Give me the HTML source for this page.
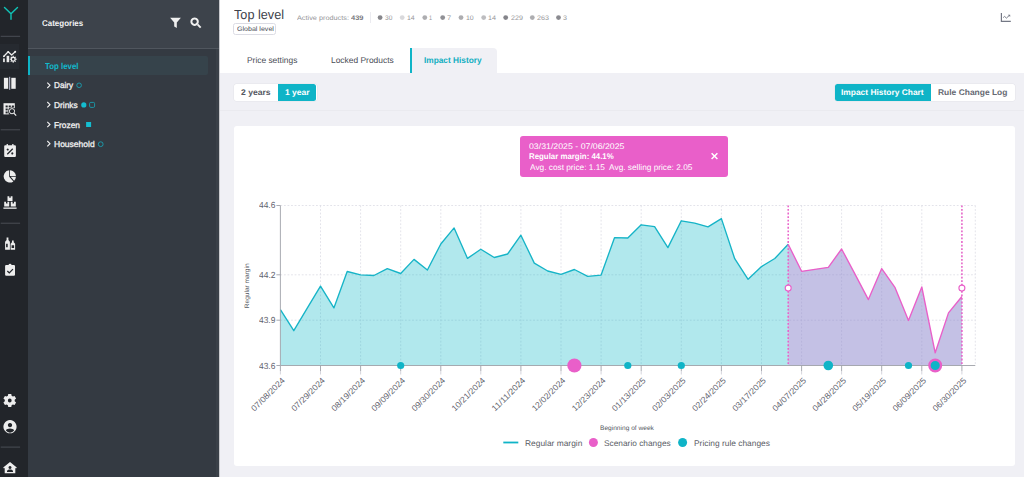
<!DOCTYPE html>
<html lang="en"><head><meta charset="utf-8"><title>Impact History</title>
<style>
html,body{margin:0;padding:0;}
body{width:1024px;height:477px;overflow:hidden;position:relative;background:#fff;font-family:"Liberation Sans", sans-serif;}
.t{position:absolute;white-space:nowrap;line-height:1;transform-origin:0 50%;text-rendering:geometricPrecision;}
text{text-rendering:geometricPrecision;}
.a{position:absolute;}
svg{position:absolute;overflow:visible;}
</style></head><body>

<div class="a" style="left:0;top:0;width:28px;height:477px;background:#22252a"></div>
<div class="a" style="left:0;top:44px;width:19px;height:25px;background:#262a30"></div>
<svg class="a" style="left:0;top:0" width="28" height="477" viewBox="0 0 28 477"><rect x="0.7" y="35.8" width="19.4" height="1" fill="#4a4e55"/><rect x="0.7" y="129.3" width="19.4" height="1" fill="#4a4e55"/><rect x="0.7" y="222.7" width="19.4" height="1" fill="#4a4e55"/><rect x="0.7" y="446.6" width="19.4" height="1" fill="#4a4e55"/></svg>
<svg class="a" style="left:0;top:0" width="28" height="40" viewBox="0 0 28 40"><path d="M4.5 7.4 L11 13.8 L17.5 7.5 M11 13.8 L11 19.2" fill="none" stroke="#10c3b6" stroke-width="1.4" stroke-linecap="round"/></svg>
<svg class="a" style="left:0;top:0" width="28" height="477" viewBox="0 0 28 477">
<g fill="#ededed" stroke="none">
<!-- analytics -->
<path d="M3.9 56.2 L8.2 51.8 L11.6 55.0 L15.0 52.0" fill="none" stroke="#ededed" stroke-width="1.25" stroke-linejoin="round" stroke-linecap="round"/>
<circle cx="15.2" cy="51.8" r="1.0"/><circle cx="3.9" cy="56.3" r="0.9"/><circle cx="8.2" cy="51.8" r="0.9"/>
<rect x="3.1" y="58.4" width="1.7" height="3.7"/>
<rect x="6.6" y="55.8" width="2.6" height="6.4"/>
<path d="M12.60 56.77 L12.67 55.74 L13.73 55.74 L13.80 56.77 L14.49 57.06 L15.27 56.38 L16.02 57.13 L15.34 57.91 L15.63 58.60 L16.66 58.67 L16.66 59.73 L15.63 59.80 L15.34 60.49 L16.02 61.27 L15.27 62.02 L14.49 61.34 L13.80 61.63 L13.73 62.66 L12.67 62.66 L12.60 61.63 L11.91 61.34 L11.13 62.02 L10.38 61.27 L11.06 60.49 L10.77 59.80 L9.74 59.73 L9.74 58.67 L10.77 58.60 L11.06 57.91 L10.38 57.13 L11.13 56.38 L11.91 57.06 Z M11.95 59.20 a1.25 1.25 0 1 0 2.5 0 a1.25 1.25 0 1 0 -2.5 0 Z" fill-rule="evenodd"/>
<!-- columns -->
<rect x="3.9" y="77.8" width="4.3" height="11"/>
<rect x="11.3" y="77.8" width="4.4" height="11"/>
<rect x="9.2" y="76.8" width="1" height="13" fill="#c9cbe0"/>
<!-- table search -->
<rect x="3.5" y="103.2" width="11.3" height="11.2"/>
<g fill="#22252a">
<rect x="5.6" y="105.5" width="2.1" height="1.9"/><rect x="8.7" y="105.5" width="2.1" height="1.9"/><rect x="11.8" y="105.5" width="2.1" height="1.9"/>
<rect x="5.6" y="108.5" width="2.1" height="1.9"/><rect x="8.7" y="108.5" width="2.1" height="1.9"/><rect x="11.8" y="108.5" width="3.2" height="1.9"/>
<rect x="5.6" y="111.5" width="2.1" height="1.9"/><rect x="8.7" y="111.5" width="6.3" height="3.1"/>
<circle cx="12" cy="111.2" r="3.7"/>
</g>
<circle cx="12" cy="111.2" r="2.6" fill="none" stroke="#ededed" stroke-width="1.0"/>
<path d="M13.9 113.2 L16.2 115.6" stroke="#ededed" stroke-width="1.2" fill="none"/>
<!-- calendar percent -->
<path d="M5.200 145.300 h1.400 v-1.200 h1.300 v1.200 h4.300 v-1.200 h1.300 v1.200 h1.400 a1 1 0 0 1 1 1 v9.600 a1 1 0 0 1 -1 1 h-9.700 a1 1 0 0 1 -1-1 v-9.600 a1 1 0 0 1 1-1 Z M7.700 148.400 a1.050 1.050 0 1 0 .01 0 Z M12.300 152.300 a1.050 1.050 0 1 0 .01 0 Z M12.300 148.300 l.9.9 l-5.500 5.500 l-.9-.9 Z" fill-rule="evenodd"/>
<!-- pie -->
<path d="M9.2 170.3 V176.7 L13.4 181.4 A6.15 6.15 0 1 1 9.2 170.3 Z"/>
<path d="M10.0 170.25 A6.15 6.15 0 0 1 15.95 176.0 H10.0 Z"/>
<path d="M10.7 176.8 H15.95 A6.15 6.15 0 0 1 14.1 180.7 Z"/>
<!-- boxes -->
<path d="M7.500 196.200 h5 v4.700 h-5 Z M9.300 196.200 v1.900 l.7-.5 l.7 .5 v-1.900 Z" fill-rule="evenodd"/>
<path d="M4.200 201.800 h5 v4.700 h-5 Z M6 201.800 v1.900 l.7-.5 l.7 .5 v-1.900 Z" fill-rule="evenodd"/>
<path d="M10.800 201.800 h5 v4.700 h-5 Z M12.600 201.800 v1.900 l.7-.5 l.7 .5 v-1.900 Z" fill-rule="evenodd"/>
<rect x="3.400" y="207.500" width="13.200" height="1.300"/>
<!-- bottles -->
<path d="M6.600 237.600 h1.800 v2.300 l1.500 1.900 v8 h-4.800 v-8 l1.500 -1.900 Z M6.100 243.800 v3.400 h1.600 v-3.400 Z" fill-rule="evenodd"/>
<path d="M12 240.400 h1.700 v1.800 l1.400 1.500 v6.100 h-4.500 v-6.100 l1.400 -1.500 Z M11.600 245.200 v2.700 h2.500 v-2.700 Z" fill-rule="evenodd"/>
<!-- clipboard -->
<path d="M6.200 264.900 h2.300 a1.600 1.600 0 0 1 3.100 0 h2.300 a1.100 1.100 0 0 1 1.100 1.100 v8.700 a1.100 1.100 0 0 1 -1.100 1.100 h-7.700 a1.100 1.100 0 0 1 -1.100-1.100 v-8.700 a1.100 1.100 0 0 1 1.100-1.100 Z M12.500 268.700 l.9.9 l-4.100 4.100 l-2.400-2.300 l.9-.9 l1.500 1.400 Z" fill-rule="evenodd"/>
<!-- gear -->
<path d="M7.91 395.85 L8.22 394.08 L11.28 394.08 L11.59 395.85 L12.86 396.58 L14.55 395.97 L16.07 398.61 L14.70 399.77 L14.70 401.23 L16.07 402.39 L14.55 405.03 L12.86 404.42 L11.59 405.15 L11.28 406.92 L8.22 406.92 L7.91 405.15 L6.64 404.42 L4.95 405.03 L3.43 402.39 L4.80 401.23 L4.80 399.77 L3.43 398.61 L4.95 395.97 L6.64 396.58 Z M7.85 400.50 a1.9 1.9 0 1 0 3.8 0 a1.9 1.9 0 1 0 -3.8 0 Z" fill-rule="evenodd"/>
<!-- user circle -->
<path d="M10 420.100 a6.600 6.600 0 1 0 .01 0 Z M10 423 a2.100 2.100 0 1 1 -.01 0 Z M10 428.600 c1.700 0 3.800 .7 4.100 1.900 a5 5 0 0 1 -8.200 0 c.3-1.200 2.400-1.900 4.100-1.900 Z" fill-rule="evenodd"/>
<!-- home -->
<path d="M10 461.900 l6.800 5.500 l-.8 1 l-.7-.6 v5.500 h-10.600 v-5.500 l-.7.6 l-.8-1 Z M10 465.900 a1.500 1.500 0 1 0 .01 0 Z M10 469.500 c-1.500 0 -3 .6 -3 1.700 v.700 h6 v-.7 c0-1.100 -1.500-1.700 -3-1.700 Z" fill-rule="evenodd"/>
</g></svg>
<div class="a" style="left:28px;top:0;width:191px;height:477px;background:#343a42"></div>
<div class="a" style="left:28px;top:0;width:191px;height:48px;background:#3d434b"></div>
<div class="a" style="left:28px;top:48px;width:191px;height:1px;background:#50565e"></div>
<div class="a" style="left:216px;top:49px;width:3px;height:428px;background:#3a4048"></div>
<span class="t" id="t1" style="left:42.24px;top:19px;font-size:8.4px;color:#f2f2f2;font-weight:700;transform:scaleX(0.9525);">Categories</span>
<svg class="a" style="left:0;top:0" width="230" height="48" viewBox="0 0 230 48"><g fill="#f0f0f0">
<path d="M170.100 17.700 h10.800 l-4.100 4.900 v5.400 l-2.600-1.400 v-4 Z"/>
<path d="M194.600 17.500 a4.200 4.200 0 1 0 .01 0 Z M194.600 19.500 a2.200 2.200 0 1 1 -.01 0 Z" fill-rule="evenodd"/>
<path d="M196.800 25.100 l1.400-1.400 l3.200 3.200 l-1.400 1.400 Z"/>
</g></svg>
<div class="a" style="left:28px;top:56px;width:180px;height:19px;background:#36434b;border-radius:0 2px 2px 0"></div>
<div class="a" style="left:28px;top:56px;width:2px;height:19px;background:#0fb4c7"></div>
<span class="t" id="t2" style="left:45.19px;top:62px;font-size:8.6px;color:#12b9cb;font-weight:700;transform:scaleX(0.9143);">Top level</span>
<span class="t" id="t3" style="left:53.97px;top:81px;font-size:8.4px;color:#f0f0f0;font-weight:400;transform:scaleX(0.9760);-webkit-text-stroke:0.3px #f0f0f0;">Dairy</span>
<span class="t" id="t4" style="left:53.95px;top:101px;font-size:8.4px;color:#f0f0f0;font-weight:400;transform:scaleX(0.9989);-webkit-text-stroke:0.3px #f0f0f0;">Drinks</span>
<span class="t" id="t5" style="left:53.95px;top:121px;font-size:8.4px;color:#f0f0f0;font-weight:400;transform:scaleX(0.9939);-webkit-text-stroke:0.3px #f0f0f0;">Frozen</span>
<span class="t" id="t6" style="left:53.94px;top:140px;font-size:8.4px;color:#f0f0f0;font-weight:400;transform:scaleX(1.0142);-webkit-text-stroke:0.3px #f0f0f0;">Household</span>
<svg class="a" style="left:0;top:0" width="220" height="160" viewBox="0 0 220 160"><path d="M47.300 82.6 L50 85.3 L47.300 88.0" fill="none" stroke="#f0f0f0" stroke-width="1.100"/><path d="M47.300 102.0 L50 104.7 L47.300 107.4" fill="none" stroke="#f0f0f0" stroke-width="1.100"/><path d="M47.300 121.8 L50 124.5 L47.300 127.2" fill="none" stroke="#f0f0f0" stroke-width="1.100"/><path d="M47.300 141.0 L50 143.7 L47.300 146.4" fill="none" stroke="#f0f0f0" stroke-width="1.100"/><circle cx="79.100" cy="85.300" r="2.300" fill="none" stroke="#1a9fb0" stroke-width="0.900"/><circle cx="83.800" cy="104.900" r="2.600" fill="#14bdd0"/><rect x="89.600" y="102.400" width="5" height="5" rx="1.200" fill="none" stroke="#1a9fb0" stroke-width="0.900"/><rect x="86.100" y="122" width="5" height="5" fill="#14bdd0"/><circle cx="100.700" cy="144.200" r="2.400" fill="none" stroke="#1a9fb0" stroke-width="0.900"/></svg>
<span class="t" id="t7" style="left:233.76px;top:8px;font-size:13.2px;color:#40434c;font-weight:400;transform:scaleX(0.9612);">Top level</span>
<div class="a" style="left:233.300px;top:23.300px;width:43px;height:11.600px;border:1px solid #dcdce4;border-radius:2.500px;box-sizing:border-box"></div>
<span class="t" id="t8" style="left:236.60px;top:27px;font-size:6.6px;color:#4a4d55;font-weight:400;transform:scaleX(1.0706);">Global level</span>
<span class="t" id="t9" style="left:297.30px;top:16px;font-size:6.6px;color:#96969a;font-weight:400;transform:scaleX(1.1070);">Active products:</span>
<span class="t" id="t10" style="left:350.56px;top:16px;font-size:6.6px;color:#77777c;font-weight:700;transform:scaleX(1.1388);">439</span>
<div class="a" style="left:370px;top:12px;width:1px;height:11px;background:#ebebf0"></div>
<span class="t" id="t11" style="left:384.85px;top:16px;font-size:6.6px;color:#96969a;font-weight:400;transform:scaleX(1.0036);">30</span>
<span class="t" id="t12" style="left:407.27px;top:16px;font-size:6.6px;color:#96969a;font-weight:400;transform:scaleX(1.0566);">14</span>
<span class="t" id="t13" style="left:429.48px;top:16px;font-size:6.6px;color:#96969a;font-weight:400;transform:scaleX(0.8348);">1</span>
<span class="t" id="t14" style="left:447.47px;top:16px;font-size:6.6px;color:#96969a;font-weight:400;transform:scaleX(1.1333);">7</span>
<span class="t" id="t15" style="left:466.37px;top:16px;font-size:6.6px;color:#96969a;font-weight:400;transform:scaleX(1.0566);">10</span>
<span class="t" id="t16" style="left:488.46px;top:16px;font-size:6.6px;color:#96969a;font-weight:400;transform:scaleX(1.0868);">14</span>
<span class="t" id="t17" style="left:510.70px;top:16px;font-size:6.6px;color:#96969a;font-weight:400;transform:scaleX(1.0795);">229</span>
<span class="t" id="t18" style="left:536.99px;top:16px;font-size:6.6px;color:#96969a;font-weight:400;transform:scaleX(1.0892);">263</span>
<span class="t" id="t19" style="left:563.23px;top:16px;font-size:6.6px;color:#96969a;font-weight:400;transform:scaleX(1.0880);">3</span>
<svg class="a" style="left:0;top:0" width="1024" height="40" viewBox="0 0 1024 40"><circle cx="380.1" cy="17.600" r="2.400" fill="#87878c"/><circle cx="402.2" cy="17.600" r="2.400" fill="#d9d9dc"/><circle cx="424.8" cy="17.600" r="2.400" fill="#adadb0"/><circle cx="442.7" cy="17.600" r="2.400" fill="#909095"/><circle cx="461.0" cy="17.600" r="2.400" fill="#adadb0"/><circle cx="483.7" cy="17.600" r="2.400" fill="#bdbdc0"/><circle cx="505.7" cy="17.600" r="2.400" fill="#84848a"/><circle cx="532.3" cy="17.600" r="2.400" fill="#adadb0"/><circle cx="558.5" cy="17.600" r="2.400" fill="#8a8a90"/><path d="M1001.400 13 V21.300 H1010.800" fill="none" stroke="#747885" stroke-width="1.200"/><path d="M1003.200 17.600 L1004.600 16.400 L1006.400 18.100 L1009 15.700" fill="none" stroke="#747885" stroke-width="0.950"/><path d="M1007.900 14.700 h2.300 v2.300 Z" fill="#747885"/></svg>
<div class="a" style="left:219px;top:73px;width:805px;height:404px;background:#f0f0f5"></div>
<div class="a" style="left:410px;top:48px;width:87px;height:26px;background:#f0f0f5;border-radius:0 4px 0 0"></div>
<div class="a" style="left:410px;top:48px;width:2px;height:25px;background:#0fb4c7"></div>
<span class="t" id="t20" style="left:247.25px;top:56px;font-size:8.4px;color:#4a4d55;font-weight:400;transform:scaleX(1.0010);">Price settings</span>
<span class="t" id="t21" style="left:330.55px;top:56px;font-size:8.4px;color:#4a4d55;font-weight:400;transform:scaleX(1.0053);">Locked Products</span>
<span class="t" id="t22" style="left:424.21px;top:56px;font-size:8.4px;color:#10aec1;font-weight:700;transform:scaleX(0.9892);">Impact History</span>
<div class="a" style="left:219px;top:110px;width:805px;height:1px;background:#eaeaef"></div>
<div class="a" style="left:233.500px;top:84px;width:83px;height:17px;background:#fff;border-radius:2.500px;box-shadow:0 0 0 0.500px #e4e4ea"></div>
<div class="a" style="left:277.800px;top:84px;width:38.700px;height:17px;background:#0fb4c7;border-radius:0 2.500px 2.500px 0"></div>
<span class="t" id="t23" style="left:240.74px;top:89px;font-size:8.2px;color:#555862;font-weight:700;transform:scaleX(1.0498);">2 years</span>
<span class="t" id="t24" style="left:284.78px;top:89px;font-size:8.2px;color:#ffffff;font-weight:700;transform:scaleX(1.0422);">1 year</span>
<div class="a" style="left:834.500px;top:84px;width:180px;height:17px;background:#fff;border-radius:2.500px;box-shadow:0 0 0 0.500px #e4e4ea"></div>
<div class="a" style="left:834.500px;top:84px;width:96.500px;height:17px;background:#0fb4c7;border-radius:2.500px 0 0 2.500px"></div>
<span class="t" id="t25" style="left:841.09px;top:89px;font-size:8.2px;color:#ffffff;font-weight:700;transform:scaleX(1.0263);">Impact History Chart</span>
<span class="t" id="t26" style="left:937.98px;top:89px;font-size:8.2px;color:#666972;font-weight:700;transform:scaleX(1.0309);">Rule Change Log</span>
<div class="a" style="left:219px;top:0;width:1px;height:477px;background:#c9cace"></div>
<div class="a" style="left:234px;top:126px;width:780.500px;height:340px;background:#fff;border-radius:3px"></div>
<div class="a" style="left:520.300px;top:135.600px;width:207.700px;height:41px;background:#e95fc9;border-radius:3px"></div>
<span class="t" id="t27" style="left:529.30px;top:143px;font-size:8.2px;color:#ffffff;font-weight:400;transform:scaleX(1.0701);">03/31/2025 - 07/06/2025</span>
<span class="t" id="t28" style="left:529.22px;top:153px;font-size:8.2px;color:#ffffff;font-weight:700;transform:scaleX(0.9598);">Regular margin: 44.1%</span>
<span class="t" id="t29" style="left:529.70px;top:164px;font-size:8.2px;color:#ffffff;font-weight:400;transform:scaleX(1.0125);">Avg. cost price: 1.15&nbsp; Avg. selling price: 2.05</span>
<svg class="a" style="left:0;top:0" width="1024" height="200" viewBox="0 0 1024 200"><path d="M711.600 153.200 L717.400 159 M717.400 153.200 L711.600 159" stroke="#fff" stroke-width="1.500" fill="none"/></svg>
<svg class="a" style="left:0;top:0" width="1024" height="477" viewBox="0 0 1024 477">
<line x1="320.5" y1="205.5" x2="320.5" y2="365.5" stroke="#dcdce4" stroke-width="0.800" stroke-dasharray="1.800 1.760"/>
<line x1="360.6" y1="205.5" x2="360.6" y2="365.5" stroke="#dcdce4" stroke-width="0.800" stroke-dasharray="1.800 1.760"/>
<line x1="400.7" y1="205.5" x2="400.7" y2="365.5" stroke="#dcdce4" stroke-width="0.800" stroke-dasharray="1.800 1.760"/>
<line x1="440.8" y1="205.5" x2="440.8" y2="365.5" stroke="#dcdce4" stroke-width="0.800" stroke-dasharray="1.800 1.760"/>
<line x1="480.8" y1="205.5" x2="480.8" y2="365.5" stroke="#dcdce4" stroke-width="0.800" stroke-dasharray="1.800 1.760"/>
<line x1="520.9" y1="205.5" x2="520.9" y2="365.5" stroke="#dcdce4" stroke-width="0.800" stroke-dasharray="1.800 1.760"/>
<line x1="561.0" y1="205.5" x2="561.0" y2="365.5" stroke="#dcdce4" stroke-width="0.800" stroke-dasharray="1.800 1.760"/>
<line x1="601.1" y1="205.5" x2="601.1" y2="365.5" stroke="#dcdce4" stroke-width="0.800" stroke-dasharray="1.800 1.760"/>
<line x1="641.2" y1="205.5" x2="641.2" y2="365.5" stroke="#dcdce4" stroke-width="0.800" stroke-dasharray="1.800 1.760"/>
<line x1="681.3" y1="205.5" x2="681.3" y2="365.5" stroke="#dcdce4" stroke-width="0.800" stroke-dasharray="1.800 1.760"/>
<line x1="721.4" y1="205.5" x2="721.4" y2="365.5" stroke="#dcdce4" stroke-width="0.800" stroke-dasharray="1.800 1.760"/>
<line x1="761.5" y1="205.5" x2="761.5" y2="365.5" stroke="#dcdce4" stroke-width="0.800" stroke-dasharray="1.800 1.760"/>
<line x1="801.6" y1="205.5" x2="801.6" y2="365.5" stroke="#dcdce4" stroke-width="0.800" stroke-dasharray="1.800 1.760"/>
<line x1="841.6" y1="205.5" x2="841.6" y2="365.5" stroke="#dcdce4" stroke-width="0.800" stroke-dasharray="1.800 1.760"/>
<line x1="881.7" y1="205.5" x2="881.7" y2="365.5" stroke="#dcdce4" stroke-width="0.800" stroke-dasharray="1.800 1.760"/>
<line x1="921.8" y1="205.5" x2="921.8" y2="365.5" stroke="#dcdce4" stroke-width="0.800" stroke-dasharray="1.800 1.760"/>
<line x1="961.9" y1="205.5" x2="961.9" y2="365.5" stroke="#dcdce4" stroke-width="0.800" stroke-dasharray="1.800 1.760"/>
<line x1="975.3" y1="205.5" x2="975.3" y2="365.5" stroke="#dcdce4" stroke-width="0.800" stroke-dasharray="1.800 1.760"/>
<line x1="280.4" y1="205.5" x2="975.3" y2="205.5" stroke="#dcdce4" stroke-width="0.800" stroke-dasharray="1.800 1.760"/>
<line x1="280.4" y1="274.8" x2="975.3" y2="274.8" stroke="#dcdce4" stroke-width="0.800" stroke-dasharray="1.800 1.760"/>
<line x1="280.4" y1="320.2" x2="975.3" y2="320.2" stroke="#dcdce4" stroke-width="0.800" stroke-dasharray="1.800 1.760"/>
<polygon points="280.4,365.5 280.4,309.7 293.8,330.7 307.1,308.3 320.5,286.2 333.9,307.9 347.2,271.5 360.6,274.9 373.9,275.5 387.3,268.6 400.7,273.5 414.0,259.4 427.4,270.0 440.8,244.0 454.1,227.9 467.5,258.4 480.8,249.2 494.2,257.5 507.6,254.0 520.9,235.2 534.3,263.1 547.7,271.0 561.0,274.4 574.4,269.5 587.7,276.3 601.1,275.1 614.5,237.7 627.8,238.0 641.2,224.8 654.6,226.7 667.9,247.6 681.3,220.8 694.7,223.1 708.0,226.8 721.4,218.6 734.7,258.7 748.1,279.3 761.5,266.6 774.8,258.5 788.2,244.3 788.2,365.5" fill="#13b8c9" fill-opacity="0.330"/>
<polygon points="788.2,365.5 788.2,244.3 801.6,271.3 814.9,269.3 828.3,267.3 841.6,249.0 855.0,274.1 868.4,299.6 881.7,268.6 895.1,287.7 908.5,320.5 921.8,287.0 935.2,352.8 948.5,312.9 961.9,296.5 961.9,365.5" fill="#8a84cc" fill-opacity="0.500"/>
<polyline points="280.4,309.7 293.8,330.7 307.1,308.3 320.5,286.2 333.9,307.9 347.2,271.5 360.6,274.9 373.9,275.5 387.3,268.6 400.7,273.5 414.0,259.4 427.4,270.0 440.8,244.0 454.1,227.9 467.5,258.4 480.8,249.2 494.2,257.5 507.6,254.0 520.9,235.2 534.3,263.1 547.7,271.0 561.0,274.4 574.4,269.5 587.7,276.3 601.1,275.1 614.5,237.7 627.8,238.0 641.2,224.8 654.6,226.7 667.9,247.6 681.3,220.8 694.7,223.1 708.0,226.8 721.4,218.6 734.7,258.7 748.1,279.3 761.5,266.6 774.8,258.5 788.2,244.3" fill="none" stroke="#16b4c7" stroke-width="1.350" stroke-linejoin="round"/>
<polyline points="788.2,244.3 801.6,271.3 814.9,269.3 828.3,267.3 841.6,249.0 855.0,274.1 868.4,299.6 881.7,268.6 895.1,287.7 908.5,320.5 921.8,287.0 935.2,352.8 948.5,312.9 961.9,296.5" fill="none" stroke="#e95fc9" stroke-width="1.350" stroke-linejoin="round"/>
<line x1="280.4" y1="205.5" x2="280.4" y2="365.5" stroke="#9fa1a8" stroke-width="0.900"/>
<line x1="280.4" y1="365.5" x2="975.3" y2="365.5" stroke="#9fa1a8" stroke-width="0.900"/>
<line x1="276.4" y1="205.5" x2="280.4" y2="205.5" stroke="#9fa1a8" stroke-width="0.900"/>
<line x1="276.4" y1="274.8" x2="280.4" y2="274.8" stroke="#9fa1a8" stroke-width="0.900"/>
<line x1="276.4" y1="320.2" x2="280.4" y2="320.2" stroke="#9fa1a8" stroke-width="0.900"/>
<line x1="276.4" y1="365.5" x2="280.4" y2="365.5" stroke="#9fa1a8" stroke-width="0.900"/>
<line x1="280.4" y1="365.5" x2="280.4" y2="371.0" stroke="#9fa1a8" stroke-width="0.900"/>
<line x1="280.4" y1="371.0" x2="280.4" y2="374.5" stroke="#d0d0d8" stroke-width="0.900"/>
<line x1="320.5" y1="365.5" x2="320.5" y2="371.0" stroke="#9fa1a8" stroke-width="0.900"/>
<line x1="320.5" y1="371.0" x2="320.5" y2="374.5" stroke="#d0d0d8" stroke-width="0.900"/>
<line x1="360.6" y1="365.5" x2="360.6" y2="371.0" stroke="#9fa1a8" stroke-width="0.900"/>
<line x1="360.6" y1="371.0" x2="360.6" y2="374.5" stroke="#d0d0d8" stroke-width="0.900"/>
<line x1="400.7" y1="365.5" x2="400.7" y2="371.0" stroke="#9fa1a8" stroke-width="0.900"/>
<line x1="400.7" y1="371.0" x2="400.7" y2="374.5" stroke="#d0d0d8" stroke-width="0.900"/>
<line x1="440.8" y1="365.5" x2="440.8" y2="371.0" stroke="#9fa1a8" stroke-width="0.900"/>
<line x1="440.8" y1="371.0" x2="440.8" y2="374.5" stroke="#d0d0d8" stroke-width="0.900"/>
<line x1="480.8" y1="365.5" x2="480.8" y2="371.0" stroke="#9fa1a8" stroke-width="0.900"/>
<line x1="480.8" y1="371.0" x2="480.8" y2="374.5" stroke="#d0d0d8" stroke-width="0.900"/>
<line x1="520.9" y1="365.5" x2="520.9" y2="371.0" stroke="#9fa1a8" stroke-width="0.900"/>
<line x1="520.9" y1="371.0" x2="520.9" y2="374.5" stroke="#d0d0d8" stroke-width="0.900"/>
<line x1="561.0" y1="365.5" x2="561.0" y2="371.0" stroke="#9fa1a8" stroke-width="0.900"/>
<line x1="561.0" y1="371.0" x2="561.0" y2="374.5" stroke="#d0d0d8" stroke-width="0.900"/>
<line x1="601.1" y1="365.5" x2="601.1" y2="371.0" stroke="#9fa1a8" stroke-width="0.900"/>
<line x1="601.1" y1="371.0" x2="601.1" y2="374.5" stroke="#d0d0d8" stroke-width="0.900"/>
<line x1="641.2" y1="365.5" x2="641.2" y2="371.0" stroke="#9fa1a8" stroke-width="0.900"/>
<line x1="641.2" y1="371.0" x2="641.2" y2="374.5" stroke="#d0d0d8" stroke-width="0.900"/>
<line x1="681.3" y1="365.5" x2="681.3" y2="371.0" stroke="#9fa1a8" stroke-width="0.900"/>
<line x1="681.3" y1="371.0" x2="681.3" y2="374.5" stroke="#d0d0d8" stroke-width="0.900"/>
<line x1="721.4" y1="365.5" x2="721.4" y2="371.0" stroke="#9fa1a8" stroke-width="0.900"/>
<line x1="721.4" y1="371.0" x2="721.4" y2="374.5" stroke="#d0d0d8" stroke-width="0.900"/>
<line x1="761.5" y1="365.5" x2="761.5" y2="371.0" stroke="#9fa1a8" stroke-width="0.900"/>
<line x1="761.5" y1="371.0" x2="761.5" y2="374.5" stroke="#d0d0d8" stroke-width="0.900"/>
<line x1="801.6" y1="365.5" x2="801.6" y2="371.0" stroke="#9fa1a8" stroke-width="0.900"/>
<line x1="801.6" y1="371.0" x2="801.6" y2="374.5" stroke="#d0d0d8" stroke-width="0.900"/>
<line x1="841.6" y1="365.5" x2="841.6" y2="371.0" stroke="#9fa1a8" stroke-width="0.900"/>
<line x1="841.6" y1="371.0" x2="841.6" y2="374.5" stroke="#d0d0d8" stroke-width="0.900"/>
<line x1="881.7" y1="365.5" x2="881.7" y2="371.0" stroke="#9fa1a8" stroke-width="0.900"/>
<line x1="881.7" y1="371.0" x2="881.7" y2="374.5" stroke="#d0d0d8" stroke-width="0.900"/>
<line x1="921.8" y1="365.5" x2="921.8" y2="371.0" stroke="#9fa1a8" stroke-width="0.900"/>
<line x1="921.8" y1="371.0" x2="921.8" y2="374.5" stroke="#d0d0d8" stroke-width="0.900"/>
<line x1="961.9" y1="365.5" x2="961.9" y2="371.0" stroke="#9fa1a8" stroke-width="0.900"/>
<line x1="961.9" y1="371.0" x2="961.9" y2="374.5" stroke="#d0d0d8" stroke-width="0.900"/>
<line x1="788.2" y1="205.5" x2="788.2" y2="365.5" stroke="#e95fc9" stroke-width="1.500" stroke-dasharray="1.800 1.760"/>
<circle cx="788.2" cy="288.100" r="3" fill="#fff" stroke="#e95fc9" stroke-width="1.100"/>
<line x1="961.9" y1="205.5" x2="961.9" y2="365.5" stroke="#e95fc9" stroke-width="1.500" stroke-dasharray="1.800 1.760"/>
<circle cx="961.9" cy="288.100" r="3" fill="#fff" stroke="#e95fc9" stroke-width="1.100"/>
<circle cx="400.7" cy="365.5" r="3.6" fill="#0fb4c7"/>
<circle cx="627.8" cy="365.5" r="3.6" fill="#0fb4c7"/>
<circle cx="681.3" cy="365.5" r="3.6" fill="#0fb4c7"/>
<circle cx="828.3" cy="365.5" r="4.8" fill="#0fb4c7"/>
<circle cx="908.5" cy="365.5" r="3.6" fill="#0fb4c7"/>
<circle cx="574.4" cy="365.5" r="7.100" fill="#e95fc9"/>
<circle cx="935.2" cy="365.5" r="5.800" fill="#0fb4c7" stroke="#e95fc9" stroke-width="2.400"/>
<line x1="503.300" y1="442.500" x2="518.300" y2="442.500" stroke="#0fb4c7" stroke-width="1.800"/>
<circle cx="593.400" cy="442.500" r="4.500" fill="#e95fc9"/>
<circle cx="682.600" cy="442.500" r="4.500" fill="#0fb4c7"/>
<text x="285.4" y="381.0" transform="rotate(-45 285.4 381.0)" text-anchor="end" font-size="8.4" fill="#5f636e" textLength="43.6" lengthAdjust="spacingAndGlyphs">07/08/2024</text>
<text x="325.5" y="381.0" transform="rotate(-45 325.5 381.0)" text-anchor="end" font-size="8.4" fill="#5f636e" textLength="43.6" lengthAdjust="spacingAndGlyphs">07/29/2024</text>
<text x="365.6" y="381.0" transform="rotate(-45 365.6 381.0)" text-anchor="end" font-size="8.4" fill="#5f636e" textLength="43.6" lengthAdjust="spacingAndGlyphs">08/19/2024</text>
<text x="405.7" y="381.0" transform="rotate(-45 405.7 381.0)" text-anchor="end" font-size="8.4" fill="#5f636e" textLength="43.6" lengthAdjust="spacingAndGlyphs">09/09/2024</text>
<text x="445.8" y="381.0" transform="rotate(-45 445.8 381.0)" text-anchor="end" font-size="8.4" fill="#5f636e" textLength="43.6" lengthAdjust="spacingAndGlyphs">09/30/2024</text>
<text x="485.8" y="381.0" transform="rotate(-45 485.8 381.0)" text-anchor="end" font-size="8.4" fill="#5f636e" textLength="43.6" lengthAdjust="spacingAndGlyphs">10/21/2024</text>
<text x="525.9" y="381.0" transform="rotate(-45 525.9 381.0)" text-anchor="end" font-size="8.4" fill="#5f636e" textLength="43.6" lengthAdjust="spacingAndGlyphs">11/11/2024</text>
<text x="566.0" y="381.0" transform="rotate(-45 566.0 381.0)" text-anchor="end" font-size="8.4" fill="#5f636e" textLength="43.6" lengthAdjust="spacingAndGlyphs">12/02/2024</text>
<text x="606.1" y="381.0" transform="rotate(-45 606.1 381.0)" text-anchor="end" font-size="8.4" fill="#5f636e" textLength="43.6" lengthAdjust="spacingAndGlyphs">12/23/2024</text>
<text x="646.2" y="381.0" transform="rotate(-45 646.2 381.0)" text-anchor="end" font-size="8.4" fill="#5f636e" textLength="43.6" lengthAdjust="spacingAndGlyphs">01/13/2025</text>
<text x="686.3" y="381.0" transform="rotate(-45 686.3 381.0)" text-anchor="end" font-size="8.4" fill="#5f636e" textLength="43.6" lengthAdjust="spacingAndGlyphs">02/03/2025</text>
<text x="726.4" y="381.0" transform="rotate(-45 726.4 381.0)" text-anchor="end" font-size="8.4" fill="#5f636e" textLength="43.6" lengthAdjust="spacingAndGlyphs">02/24/2025</text>
<text x="766.5" y="381.0" transform="rotate(-45 766.5 381.0)" text-anchor="end" font-size="8.4" fill="#5f636e" textLength="43.6" lengthAdjust="spacingAndGlyphs">03/17/2025</text>
<text x="806.6" y="381.0" transform="rotate(-45 806.6 381.0)" text-anchor="end" font-size="8.4" fill="#5f636e" textLength="43.6" lengthAdjust="spacingAndGlyphs">04/07/2025</text>
<text x="846.6" y="381.0" transform="rotate(-45 846.6 381.0)" text-anchor="end" font-size="8.4" fill="#5f636e" textLength="43.6" lengthAdjust="spacingAndGlyphs">04/28/2025</text>
<text x="886.7" y="381.0" transform="rotate(-45 886.7 381.0)" text-anchor="end" font-size="8.4" fill="#5f636e" textLength="43.6" lengthAdjust="spacingAndGlyphs">05/19/2025</text>
<text x="926.8" y="381.0" transform="rotate(-45 926.8 381.0)" text-anchor="end" font-size="8.4" fill="#5f636e" textLength="43.6" lengthAdjust="spacingAndGlyphs">06/09/2025</text>
<text x="966.9" y="381.0" transform="rotate(-45 966.9 381.0)" text-anchor="end" font-size="8.4" fill="#5f636e" textLength="43.6" lengthAdjust="spacingAndGlyphs">06/30/2025</text>
<text x="248.800" y="285.800" transform="rotate(-90 248.800 285.800)" text-anchor="middle" font-size="6.400" fill="#555962" textLength="44.800" lengthAdjust="spacingAndGlyphs">Regular margin</text>
</svg>
<span class="t" id="t30" style="left:259.16px;top:201px;font-size:8.8px;color:#5f636e;font-weight:400;transform:scaleX(0.9576);">44.6</span>
<span class="t" id="t31" style="left:259.16px;top:271px;font-size:8.8px;color:#5f636e;font-weight:400;transform:scaleX(0.9649);">44.2</span>
<span class="t" id="t32" style="left:259.16px;top:316px;font-size:8.8px;color:#5f636e;font-weight:400;transform:scaleX(0.9576);">43.9</span>
<span class="t" id="t33" style="left:259.16px;top:362px;font-size:8.8px;color:#5f636e;font-weight:400;transform:scaleX(0.9576);">43.6</span>
<span class="t" id="t34" style="left:600.48px;top:426px;font-size:6.4px;color:#555962;font-weight:400;transform:scaleX(1.0319);">Beginning of week</span>
<span class="t" id="t35" style="left:524.76px;top:440px;font-size:8.2px;color:#5a5d66;font-weight:400;transform:scaleX(1.0247);">Regular margin</span>
<span class="t" id="t36" style="left:604.32px;top:440px;font-size:8.2px;color:#5a5d66;font-weight:400;transform:scaleX(1.0173);">Scenario changes</span>
<span class="t" id="t37" style="left:693.86px;top:440px;font-size:8.2px;color:#5a5d66;font-weight:400;transform:scaleX(1.0239);">Pricing rule changes</span>
</body></html>
